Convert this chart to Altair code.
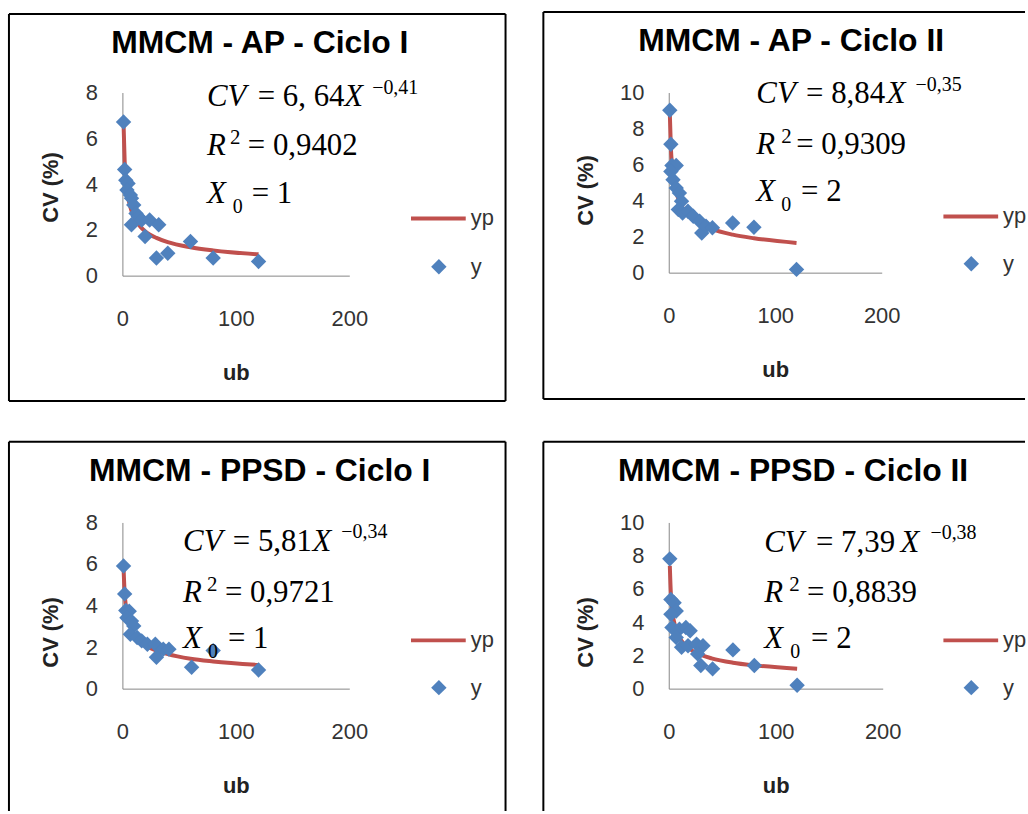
import altair as alt
import pandas as pd

# ---------------- data ----------------
fit_ub = [1, 2, 3, 4, 5, 6, 8, 10, 12, 15, 16, 20, 24, 30, 40, 60, 80, 120]

# MMCM - AP - Ciclo I
ap1_ub = [1, 2, 3, 5, 4, 7, 8, 10, 12, 14, 8, 17, 24, 32, 20, 30, 40, 60, 80, 120]
ap1_cv = [6.71, 4.64, 4.17, 4.03, 3.74, 3.52, 3.38, 3.09, 2.72, 2.58, 2.22, 2.43, 2.43, 2.22, 1.71, 0.77, 0.98, 1.49, 0.77, 0.62]
ap1_yp = [6.64, 5.00, 4.23, 3.76, 3.43, 3.19, 2.83, 2.58, 2.40, 2.19, 2.13, 1.94, 1.80, 1.65, 1.46, 1.24, 1.10, 0.93]

# MMCM - AP - Ciclo II
ap2_ub = [1, 2, 3, 7, 2, 4, 7, 10, 12, 9, 13, 18, 23, 29, 31, 35, 41, 60, 80, 120]
ap2_cv = [9.02, 7.13, 5.95, 5.95, 5.62, 5.16, 4.70, 4.42, 3.96, 3.50, 3.31, 3.41, 3.13, 2.85, 2.20, 2.58, 2.49, 2.76, 2.52, 0.18]
ap2_yp = [8.84, 6.94, 6.02, 5.44, 5.03, 4.72, 4.27, 3.95, 3.70, 3.43, 3.35, 3.10, 2.91, 2.69, 2.43, 2.11, 1.91, 1.65]

# MMCM - PPSD - Ciclo I
pp1_ub = [1, 2, 3, 6, 4, 8, 10, 7, 13, 17, 22, 29, 30, 36, 41, 61, 80, 120]
pp1_cv = [5.90, 4.56, 3.76, 3.73, 3.41, 3.25, 3.02, 2.62, 2.46, 2.30, 2.14, 2.14, 1.51, 1.90, 1.90, 1.03, 1.83, 0.90]
pp1_yp = [5.81, 4.59, 4.00, 3.63, 3.36, 3.16, 2.86, 2.66, 2.50, 2.31, 2.26, 2.10, 1.97, 1.83, 1.66, 1.44, 1.31, 1.14]

# MMCM - PPSD - Ciclo II
pp2_ub = [1, 2, 5, 7, 2, 3, 10, 16, 20, 7, 12, 18, 26, 32, 27, 30, 41, 60, 80, 120]
pp2_cv = [7.81, 5.37, 5.17, 4.67, 4.47, 3.68, 3.58, 3.68, 3.48, 3.08, 2.49, 2.58, 2.68, 2.58, 2.09, 1.39, 1.19, 2.33, 1.39, 0.20]
pp2_yp = [7.39, 5.68, 4.87, 4.36, 4.01, 3.74, 3.35, 3.08, 2.87, 2.64, 2.58, 2.37, 2.21, 2.03, 1.82, 1.56, 1.40, 1.20]

titles = ["MMCM - AP - Ciclo I", "MMCM - AP - Ciclo II",
          "MMCM - PPSD - Ciclo I", "MMCM - PPSD - Ciclo II"]
coefs = ["6, 64", "8,84", "5,81", "7,39"]
exps = ["\u22120,41", "\u22120,35", "\u22120,34", "\u22120,38"]
r2s = ["0,9402", "0,9309", "0,9721", "0,8839"]
x0s = ["1", "2", "1", "2"]

RED = "#C0504D"
BLUE = "#4F81BD"
ONE = alt.Data(values=[{"k": 1}])


def txt(s, x, y, size, font="Liberation Serif", italic=False, bold=False, align="left"):
    kw = dict(font=font, fontSize=size, align=align, baseline="alphabetic", color="black")
    if italic:
        kw["fontStyle"] = "italic"
    if bold:
        kw["fontWeight"] = "bold"
    return alt.Chart(ONE).mark_text(**kw).encode(
        x=alt.value(x), y=alt.value(y), text=alt.value(s))


def rule(x1, y1, x2, y2):
    return alt.Chart(ONE).mark_rule(color="black", strokeWidth=2).encode(
        x=alt.value(x1), y=alt.value(y1), x2=alt.value(x2), y2=alt.value(y2))


def panel(i, ub, cv, yp, ymax, w, h, L):
    pts = pd.DataFrame({"ub": ub, "cv": cv, "s": ["y"] * len(ub)})
    fit = pd.DataFrame({"ub": fit_ub, "cv": yp, "s": ["yp"] * len(fit_ub)})

    xenc = alt.X("ub:Q", scale=alt.Scale(domain=[0, 200], nice=False),
                 axis=alt.Axis(values=[0, 100, 200], title="ub", titleY=97,
                               titleBaseline="middle", labelPadding=43,
                               labelBaseline="middle", labelFlush=False))
    yenc = alt.Y("cv:Q", scale=alt.Scale(domain=[0, ymax], nice=False),
                 axis=alt.Axis(values=list(range(0, ymax + 1, 2)), title="CV (%)",
                               titleX=L["ytx"], titleY=L["yty"], titleBaseline="middle",
                               labelPadding=25, labelFlush=False))

    line = alt.Chart(fit).mark_line(strokeWidth=4, interpolate="monotone").encode(
        x=xenc, y=yenc,
        color=alt.Color("s:N", scale=alt.Scale(domain=["yp"], range=[RED]),
                        legend=alt.Legend(orient="none", legendX=L["lx"], legendY=L["ly1"],
                                          title=None, symbolType="stroke", symbolSize=3025,
                                          symbolStrokeWidth=4, labelOffset=3)))
    points = alt.Chart(pts).mark_point(shape="diamond", filled=True, size=240, opacity=1).encode(
        x=xenc, y=yenc,
        color=alt.Color("s:N", scale=alt.Scale(domain=["y"], range=[BLUE]),
                        legend=alt.Legend(orient="none", legendX=L["lx"] + 19, legendY=L["ly2"],
                                          title=None, symbolType="diamond", symbolSize=240,
                                          labelOffset=21)))

    x0 = L["x0"]
    b1, b2, b3 = L["base"]
    ex = L["e"]
    texts = [
        txt(titles[i], L["tx"], L["ty"], 32, font="Liberation Sans", bold=True, align="center"),
        txt("CV", x0, b1, 31, italic=True),
        txt("= " + coefs[i], x0 + ex[0], b1, 31),
        txt("X", x0 + ex[1], b1, 31, italic=True),
        txt(exps[i], x0 + ex[2], b1 - 13, 20),
        txt("R", x0, b2, 31, italic=True),
        txt("2", x0 + ex[3], b2 - 11, 21),
        txt("= " + r2s[i], x0 + ex[4], b2, 31),
        txt("X", x0, b3, 31, italic=True),
        txt("0", x0 + ex[5], b3 + 10, 20),
        txt("= " + x0s[i], x0 + ex[6], b3, 31),
    ]
    rules = [rule(*r) for r in L["rules"]]
    return alt.layer(line, points, *texts, *rules).properties(
        width=w, height=h).resolve_scale(color="independent")


p1 = panel(0, ap1_ub, ap1_cv, ap1_yp, 8, 228, 184, dict(
    ytx=-72, yty=95, lx=288, ly1=97, ly2=164, tx=138, ty=-40,
    x0=85, base=(14, 63, 111), e=(51, 138, 166, 23, 41, 26, 45),
    rules=[(-114, -79, 385, -79), (-114, 310, 385, 310),
           (-114, -79, -114, 310), (385, -79, 385, 310)]))

p2 = panel(1, ap2_ub, ap2_cv, ap2_yp, 10, 214, 181, dict(
    ytx=-84, yty=98, lx=274, ly1=95, ly2=161, tx=123, ty=-42,
    x0=88, base=(11, 62, 109), e=(50, 131, 160, 25, 40, 25, 45),
    rules=[(-126, -81, 358, -81), (-126, 308, 358, 308),
           (-126, -81, -126, 308)]))

p3 = panel(2, pp1_ub, pp1_cv, pp1_yp, 8, 228, 167, dict(
    ytx=-72, yty=110, lx=288, ly1=89, ly2=155, tx=138, ty=-42,
    x0=61, base=(29, 80, 126), e=(50, 130, 159, 24, 42, 25, 45),
    rules=[(-114, -81, 385, -81), (-114, -81, -114, 290), (385, -81, 385, 290)]))

p4 = panel(3, pp2_ub, pp2_cv, pp2_yp, 10, 215, 167, dict(
    ytx=-84, yty=110, lx=274, ly1=89, ly2=155, tx=125, ty=-42,
    x0=96, base=(30, 80, 126), e=(52, 137, 167, 25, 43, 26, 47),
    rules=[(-126, -81, 358, -81), (-126, -81, -126, 290)]))

chart = alt.vconcat(
    alt.hconcat(p1, p2, spacing=34),
    alt.hconcat(p3, p4, spacing=34),
    spacing=37,
).properties(
    padding={"left": 7, "top": 8, "right": 0, "bottom": 0},
    background="white",
).configure_view(
    stroke="transparent"
).configure_axis(
    grid=False, ticks=False, domainColor="#868686", domainWidth=1,
    labelFont="Liberation Sans", labelFontSize=22, labelColor="#333333",
    titleFont="Liberation Sans", titleFontSize=22, titleFontWeight="bold",
    titleColor="#222222"
).configure_legend(
    labelFont="Liberation Sans", labelFontSize=22, labelColor="#333333", padding=0
)

chart.save("out.html", embed_options={"renderer": "svg", "actions": False})
